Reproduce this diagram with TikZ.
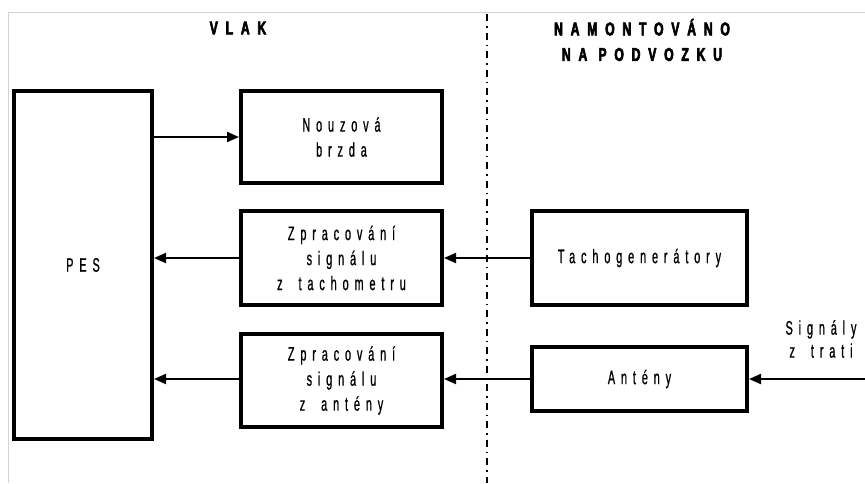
\documentclass[tikz,border=0pt]{standalone}
\usepackage{fontspec}
\setmainfont{Liberation Sans}[FakeStretch=0.56, LetterSpace=30, FakeBold=0.8, WordSpace=1.8]
\newfontfamily\headfont{Liberation Sans}[FakeStretch=0.66, LetterSpace=42, UprightFont={* Bold}, FakeBold=3.2]
\usetikzlibrary{arrows.meta}
\begin{document}
\begin{tikzpicture}[x=1pt,y=-1pt,
  blockbox/.style={draw, line width=4pt, rectangle, align=center,
    font=\fontsize{19.5}{25}\selectfont},
  flow/.style={line width=2pt, -{Triangle[length=12pt,width=10pt]}},
  heading/.style={align=center, font=\headfont\fontsize{18.5}{25.5}\selectfont},
  plain/.style={align=center, font=\fontsize{19.5}{23}\selectfont}]
\useasboundingbox (0,0) rectangle (865,483);
% light frame along the top and left edges
\draw[gray!35, line width=1pt] (8,483) -- (8,12) -- (865,12);
% boundary between train and bogie
\draw[line width=1.8pt, dash pattern=on 7pt off 5pt on 1.5pt off 5pt] (487,14) -- (487,483);
% section headings
\node[heading] (vlak) at (238,28) {VLAK};
\node[heading] (bogie) at (642,40) {NAMONTOVÁNO\\NA PODVOZKU};
% blocks
\node[blockbox, minimum width=138pt, minimum height=348pt] (pes) at (83,265) {PES};
\node[blockbox, minimum width=201pt, minimum height=92pt] (brake) at (341.5,137) {Nouzová\\brzda};
\node[blockbox, minimum width=201pt, minimum height=94pt] (proct) at (341.5,258) {Zpracování\\signálu\\z tachometru};
\node[blockbox, minimum width=201pt, minimum height=93pt] (proca) at (341.5,380.5) {Zpracování\\signálu\\z antény};
\node[blockbox, minimum width=215pt, minimum height=94pt] (tacho) at (639.5,258) {Tachogenerátory};
\node[blockbox, minimum width=215pt, minimum height=64pt] (ant) at (639.5,379) {Antény};
\node[plain] (trk) at (821,339) {Signály\\z trati};
\coordinate (src) at (866,379);
% connectors
\draw[flow] (pes.east |- brake.west) -- (brake.west);
\draw[flow] (tacho.west) -- (proct.east);
\draw[flow] (proct.west) -- (pes.east |- proct.west);
\draw[flow] (ant.west) -- (proca.east |- ant.west);
\draw[flow] (proca.west |- ant.west) -- (pes.east |- ant.west);
\draw[flow] (src) -- (ant.east);
\end{tikzpicture}
\end{document}
